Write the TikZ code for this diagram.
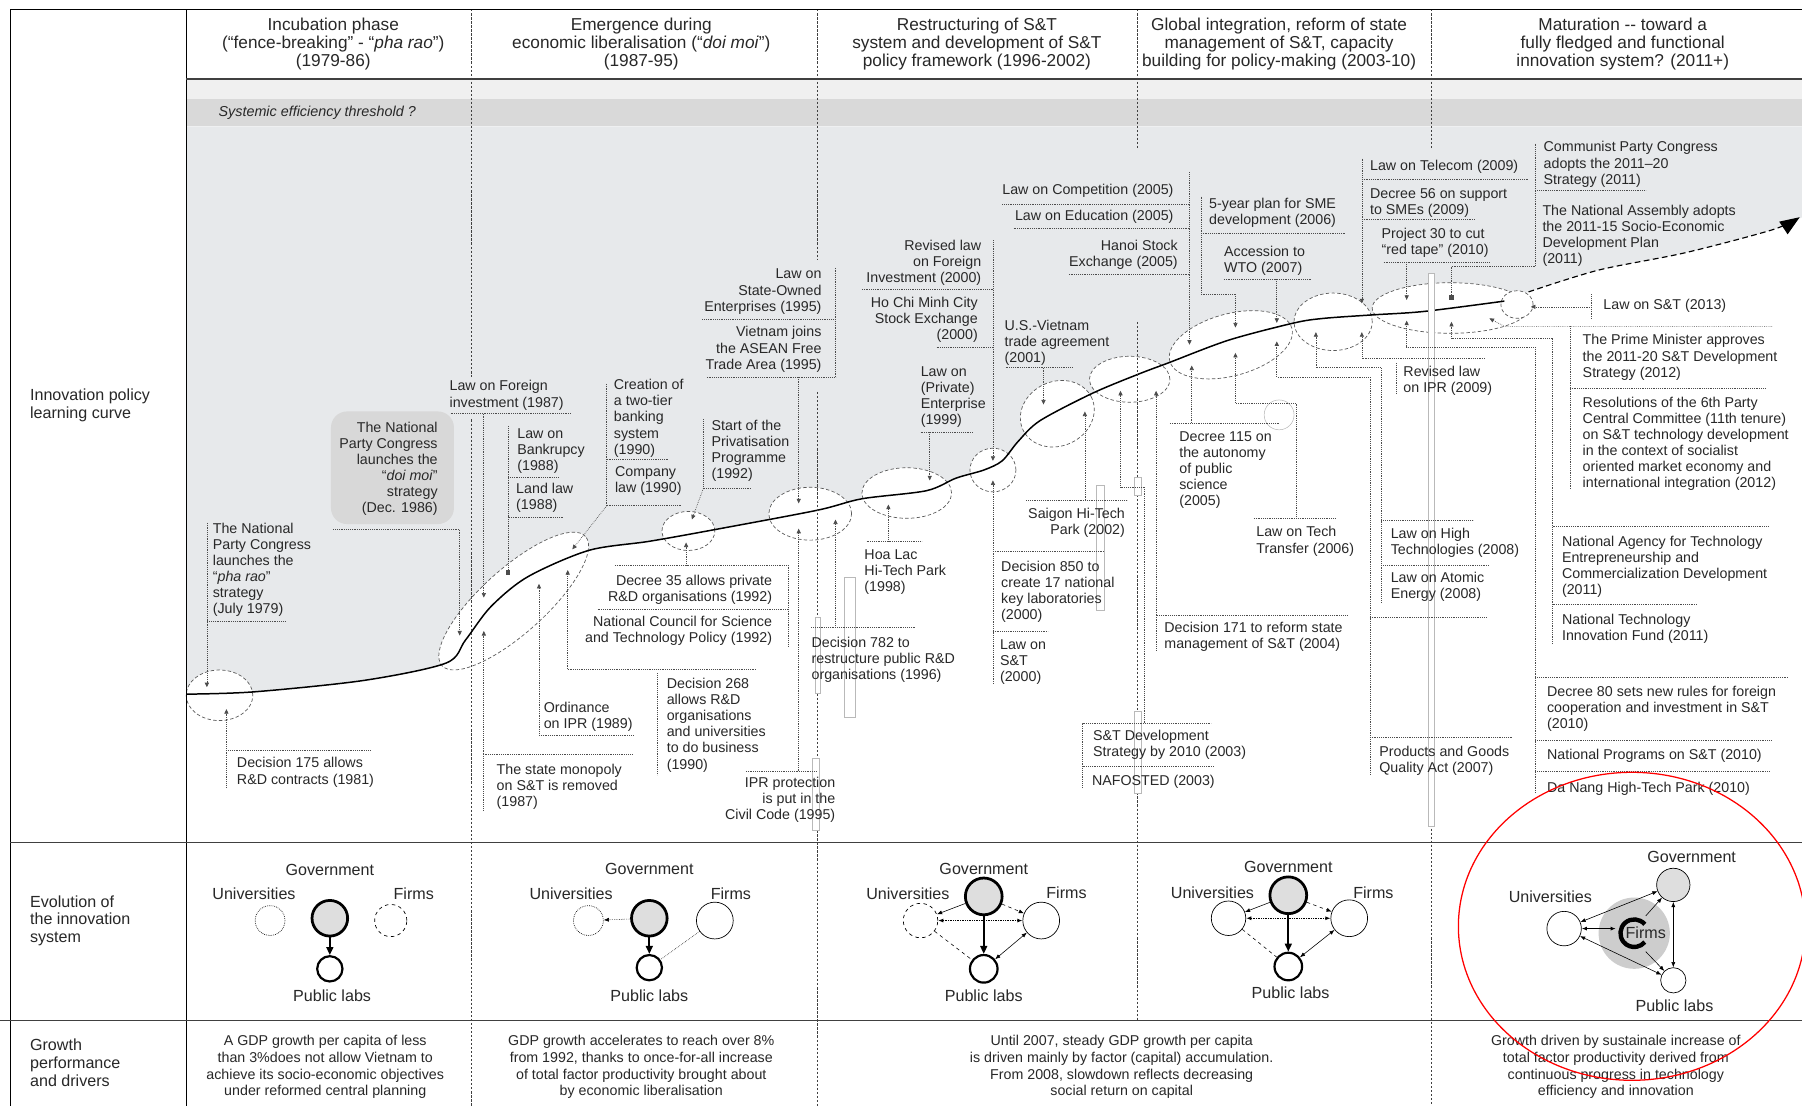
\documentclass[tikz,border=0pt]{standalone}
\usepackage{fontspec}
\setmainfont{Liberation Sans}
\usetikzlibrary{arrows.meta,calc}

\definecolor{bggray}{RGB}{231,233,235}
\definecolor{bandgray}{RGB}{217,217,217}
\definecolor{toplight}{RGB}{240,240,240}
\definecolor{boxgray}{RGB}{216,216,216}
\definecolor{govgray}{RGB}{222,222,222}
\definecolor{firmgray}{RGB}{205,205,205}
\definecolor{inkgray}{RGB}{40,40,40}
\lineskiplimit=-30pt

\newcommand\hdfont{\fontsize{15}{15.5}\selectfont}
\newcommand\lbfont{\fontsize{12.4}{14}\selectfont}
\newcommand\grfont{\fontsize{12.4}{14.4}\selectfont}
\newcommand\evfont{\fontsize{14}{16}\selectfont}
\newcommand\sdfont{\fontsize{14}{15.5}\selectfont}
\newcommand\thfont{\fontsize{12.5}{14}\selectfont\itshape}

\tikzset{
  headtxt/.style={font=\hdfont, align=center, inner sep=0pt, text=inkgray},
  sidetxt/.style={font=\sdfont, align=left, anchor=north west, inner sep=0pt, text=inkgray},
  lbl/.style={font=\lbfont, align=left, anchor=north west, inner sep=0pt, text=inkgray},
  lblr/.style={lbl, align=right, anchor=north east},
  growtxt/.style={font=\grfont, align=center, inner sep=0pt, text=inkgray},
  evo/.style={font=\evfont, inner sep=0pt, text=inkgray},
  leadln/.style={densely dotted, line width=0.6pt, black!70},
  leadtip/.style={-{Triangle[length=4pt,width=3.6pt]}},
  bubble/.style={draw=black!65, dash pattern=on 3pt off 2pt, line width=0.6pt, fill=white},
  coldiv/.style={dash pattern=on 2pt off 1.5pt, line width=0.5pt, black!75},
  rowline/.style={line width=1.4pt, black!75},
  frameline/.style={line width=0.8pt, black},
  glitch/.style={draw=gray!55, fill=white, line width=0.35pt},
  govc/.style={circle, draw, line width=2.4pt, fill=govgray, minimum size=31pt, inner sep=0pt},
  labc/.style={circle, draw, line width=1.9pt, fill=white, minimum size=22pt, inner sep=0pt},
  actc/.style={circle, draw, line width=0.6pt, fill=white, minimum size=32pt, inner sep=0pt},
  flowarr/.style={line width=1.6pt, -{Triangle[length=7pt,width=6pt]}},
  arr/.style={line width=0.5pt, -{Latex[length=4.5pt,width=3.5pt]}},
  dbl/.style={line width=0.5pt, {Latex[length=4.5pt,width=3.5pt]}-{Latex[length=4.5pt,width=3.5pt]}},
}

\begin{document}
\begin{tikzpicture}[x=1pt,y=-1pt]
	\useasboundingbox (0,0) rectangle (1568,962);
	\fill[white] (0,0) rectangle (1568,962);
	
	% bands under the header
	\fill[toplight] (162,69) rectangle (1568,86);
	\fill[bandgray] (162,86) rectangle (1568,110);
	\node[anchor=west, font=\thfont, text=inkgray, inner sep=0pt] (thr) at (190,98) {Systemic efficiency threshold ?};
	
	% area above the learning curve
	\fill[bggray] (162,110) -- (1568,110) -- (1568,189) -- plot[smooth, tension=0.5] coordinates {(1568,189) (1542,200) (1466,220) (1391,235) (1330,254) (1309,262) (1239,271) (1194,274) (1152,277) (1126,281) (1069,296) (1016,316) (992,325) (951,342) (905,366) (886,384) (872,401) (856,409) (832,416) (806,427) (750,434) (711,444) (621,461) (565,471) (512,479) (459,502) (427,528) (405,557) (388,577) (317,592) (221,602) (162,604)} -- cycle;
	
	% bubbles on the curve
	\draw[bubble] (191,605) ellipse [x radius=29pt, y radius=22pt];
	\draw[bubble, rotate around={42:(447,523)}] (447,523) ellipse [x radius=84pt, y radius=28pt];
	\draw[bubble] (599,462) ellipse [x radius=23pt, y radius=17pt];
	\draw[bubble] (705,447) ellipse [x radius=36pt, y radius=23pt];
	\draw[bubble] (789,429) ellipse [x radius=39pt, y radius=22pt];
	\draw[bubble] (864,409) ellipse [x radius=20pt, y radius=19pt];
	\draw[bubble, rotate around={25:(920,360)}] (920,360) ellipse [x radius=33pt, y radius=28pt];
	\draw[bubble] (983,330) ellipse [x radius=35pt, y radius=20pt];
	\draw[bubble, rotate around={15:(1071,300)}] (1071,300) ellipse [x radius=55pt, y radius=27pt];
	\draw[bubble] (1160,280) ellipse [x radius=34pt, y radius=25pt];
	\draw[bubble] (1262,268) ellipse [x radius=68pt, y radius=22pt];
	\draw[bubble] (1320,265) ellipse [x radius=14pt, y radius=12pt];
	
	% learning curve
	\draw[line width=1.3pt] plot[smooth, tension=0.5] coordinates {(162,604) (221,602) (317,592) (388,577) (405,557) (427,528) (459,502) (512,479) (565,471) (621,461) (711,444) (750,434) (806,427) (832,416) (856,409) (872,401) (886,384) (905,366) (951,342) (992,325) (1016,316) (1069,296) (1126,281) (1152,277) (1194,274) (1239,271) (1309,262)};
	\draw[line width=1pt, dash pattern=on 5pt off 3pt, -{Triangle[length=17pt,width=13pt]}] plot[smooth, tension=0.5] coordinates {(1330,254) (1391,235) (1466,220) (1542,200) (1566,189)};
	
	% column dividers
	\draw[coldiv] (410,8) -- (410,328) (410,365) -- (410,962);
	\draw[coldiv] (711,8) -- (711,226) (711,341) -- (711,962);
	\draw[coldiv] (990,8) -- (990,130) (990,280) -- (990,888);
	\draw[coldiv] (1245,8) -- (1245,130) (1245,238) -- (1245,962);
	
	% stray bars of the source drawing
	\draw[glitch] (709,537) rectangle (714,603);
	\draw[glitch] (707,660) rectangle (713,722);
	\draw[glitch] (735,502) rectangle (744,624);
	\draw[glitch] (954,422) rectangle (961,531);
	\draw[glitch] (987,415) rectangle (993,431);
	\draw[glitch] (987,619) rectangle (993,690);
	\draw[glitch] (1243,238) rectangle (1248,719);
	\draw[gray!60, line width=0.4pt] (1113,361) circle [radius=13pt];
	
	% leaders, 1979-86
	\draw[leadln] (180,455) -- (180,541) -- (249,541);
	\draw[leadln,leadtip] (180,541) -- (180,598);
	\draw[leadln] (197,685) -- (197,653) -- (322,653);
	\draw[leadln,leadtip] (197,653) -- (197,617);
	\draw[leadln] (290,461) -- (400,461);
	\draw[leadln,leadtip] (400,461) -- (400,553);
	\draw[leadln] (392,360) -- (497,360);
	\draw[leadln,leadtip] (421,360) -- (421,520);
	\draw[leadln] (486,415) -- (442,415) (442,371) -- (442,450) -- (490,450);
	\draw[leadln] (442,450) -- (442,496);
	\fill[black!70] (440,496) rectangle (444,500);
	
	% leaders, 1987-95
	\draw[leadln] (528,334) -- (528,440) (528,400) -- (582,400) (528,440) -- (593,440);
	\draw[leadln,leadtip] (528,440) -- (498,478);
	\draw[leadln] (612,365) -- (612,425) -- (654,425);
	\draw[leadln,leadtip] (612,425) -- (602,452);
	\draw[leadln] (535,492) -- (686,492) -- (686,563) (520,530) -- (686,530);
	\draw[leadln,leadtip] (597,492) -- (597,472);
	\draw[leadln] (494,582) -- (658,582);
	\draw[leadln,leadtip] (494,582) -- (494,496);
	\draw[leadln] (469,640) -- (551,640);
	\draw[leadln,leadtip] (469,640) -- (469,508);
	\draw[leadln] (421,705) -- (421,656) -- (551,656);
	\draw[leadln,leadtip] (421,656) -- (421,549);
	\draw[leadln] (572,586) -- (572,674);
	\draw[leadln] (649,671) -- (711,671);
	\draw[leadln,leadtip] (695,671) -- (695,460);
	\draw[leadln] (727,233) -- (727,328) (611,278) -- (727,278) (615,328) -- (727,328);
	\draw[leadln,leadtip] (695,328) -- (695,438);
	
	% leaders, 1996-2002
	\draw[leadln] (706,546) -- (796,546);
	\draw[leadln,leadtip] (727,546) -- (727,452);
	\draw[leadln] (754,471) -- (802,471);
	\draw[leadln,leadtip] (773,471) -- (773,439);
	\draw[leadln] (801,376) -- (847,376);
	\draw[leadln,leadtip] (809,376) -- (809,418);
	\draw[leadln] (750,252) -- (864,252) (815,302) -- (864,302);
	\draw[leadln,leadtip] (864,209) -- (864,401);
	\draw[leadln] (864,480) -- (961,480) (864,549) -- (912,549);
	\draw[leadln,leadtip] (864,595) -- (864,418);
	\draw[leadln] (875,320) -- (933,320);
	\draw[leadln,leadtip] (908,320) -- (908,352);
	\draw[leadln] (893,435) -- (981,435);
	\draw[leadln,leadtip] (944,435) -- (944,358);
	\draw[leadln] (872,178) -- (1035,178) (882,199) -- (1035,199) (930,239) -- (1035,239);
	\draw[leadln,leadtip] (1035,150) -- (1035,300);
	\draw[leadln] (975,424) -- (996,424) -- (996,629);
	\draw[leadln,leadtip] (975,424) -- (975,340);
	\draw[leadln] (942,685) -- (942,629) -- (1054,629) (942,667) -- (1057,667);
	\draw[leadln] (1006,566) -- (1006,535) -- (1172,535);
	\draw[leadln,leadtip] (1006,535) -- (1006,340);
	
	% leaders, 2003-10
	\draw[leadln] (1018,368) -- (1113,368);
	\draw[leadln,leadtip] (1037,368) -- (1037,318);
	\draw[leadln] (1045,171) -- (1045,256) -- (1075,256) (1045,203) -- (1170,203);
	\draw[leadln,leadtip] (1075,256) -- (1075,285);
	\draw[leadln] (1065,243) -- (1141,243);
	\draw[leadln,leadtip] (1111,243) -- (1111,281);
	\draw[leadln] (1091,451) -- (1162,451);
	\draw[leadln,leadtip] (1128,451) -- (1128,351) -- (1075,351) -- (1075,307);
	\draw[leadln,leadtip] (1192,674) -- (1192,328) -- (1111,328) -- (1111,297);
	\draw[leadln,leadtip] (1202,524) -- (1202,320) -- (1145,320) -- (1145,289);
	\draw[leadln] (1202,453) -- (1282,453) (1202,492) -- (1295,492) (1192,537) -- (1294,537) (1192,642) -- (1316,642);
	\draw[leadln,leadtip] (1292,312) -- (1185,312) -- (1185,289);
	\draw[leadln] (1215,316) -- (1215,342);
	\draw[leadln,leadtip] (1185,138) -- (1185,264);
	\draw[leadln] (1185,156) -- (1330,156) (1185,191) -- (1283,191) (1204,228) -- (1296,228);
	\draw[leadln,leadtip] (1224,228) -- (1224,261);
	\draw[leadln] (1263,232) -- (1263,257);
	\fill[black!70] (1261,257) rectangle (1265,261);
	
	% leaders, 2011+
	\draw[leadln] (1336,125) -- (1336,232) -- (1263,232) (1336,166) -- (1432,166);
	\draw[leadln,leadtip] (1336,302) -- (1224,302) -- (1224,279);
	\draw[leadln] (1336,302) -- (1336,690) (1336,589) -- (1556,589) (1336,644) -- (1542,644) (1336,671) -- (1540,671);
	\draw[leadln,leadtip] (1351,560) -- (1351,294) -- (1263,294) -- (1263,280);
	\draw[leadln] (1351,458) -- (1539,458) (1351,526) -- (1476,526);
	\draw[leadln,leadtip] (1542,284) -- (1309,284) -- (1296,277);
	\draw[leadln] (1366,284) -- (1366,426) (1366,338) -- (1537,338);
	\draw[leadln,leadtip] (1385,267) -- (1332,267);
	\draw[leadln] (1385,256) -- (1385,277);
	
	% events, 1979-86
	\fill[boxgray, rounded corners=14pt] (288,358) rectangle (395,456);
	\node[lbl] (pharao) at (185,455) {The National\\Party Congress\\launches the\\“\textit{pha rao}”\\strategy\\(July 1979)};
	\node[lbl] (dec175) at (206,659) {Decision 175 allows\\R\&D contracts (1981)};
	\node[lblr] (doimoi) at (381,367) {The National\\Party Congress\\launches the\\“\textit{doi moi}”\\strategy\\(Dec. 1986)};
	\node[lbl] (lawfi) at (391,331) {Law on Foreign\\investment (1987)};
	\node[lbl] (bankr) at (450,373) {Law on\\Bankrupcy\\(1988)};
	\node[lbl] (landlaw) at (449,420) {Land law\\(1988)};
	
	% events, 1987-95
	\node[lbl] (twotier) at (534,330) {Creation of\\a two-tier\\banking\\system\\(1990)};
	\node[lbl] (company) at (535,406) {Company\\law (1990)};
	\node[lbl] (privat) at (619,365) {Start of the\\Privatisation\\Programme\\(1992)};
	\node[lblr] (dec35) at (672,500) {Decree 35 allows private\\R\&D organisations (1992)};
	\node[lblr] (council) at (672,536) {National Council for Science\\and Technology Policy (1992)};
	\node[lbl] (ordin) at (473,611) {Ordinance\\on IPR (1989)};
	\node[lbl] (monopoly) at (432,665) {The state monopoly\\on S\&T is removed\\(1987)};
	\node[lbl] (dec268) at (580,590) {Decision 268\\allows R\&D\\organisations\\and universities\\to do business\\(1990)};
	\node[lblr] (iprcode) at (727,676) {IPR protection\\is put in the\\Civil Code (1995)};
	\node[lblr] (soe) at (715,234) {Law on\\State-Owned\\Enterprises (1995)};
	\node[lblr] (asean) at (715,284) {Vietnam joins\\the ASEAN Free\\Trade Area (1995)};
	
	% events, 1996-2002
	\node[lblr] (revfi) at (854,209) {Revised law\\on Foreign\\Investment (2000)};
	\node[lblr] (hcmc) at (851,258) {Ho Chi Minh City\\Stock Exchange\\(2000)};
	\node[lbl] (privent) at (801,319) {Law on\\(Private)\\Enterprise\\(1999)};
	\node[lbl] (usvn) at (874,278) {U.S.-Vietnam\\trade agreement\\(2001)};
	\node[lbl] (compet) at (872,160) {Law on Competition (2005)};
	\node[lbl] (educ) at (883,183) {Law on Education (2005)};
	\node[lblr] (hanoi) at (1025,209) {Hanoi Stock\\Exchange (2005)};
	\node[lbl] (hoalac) at (752,478) {Hoa Lac\\Hi-Tech Park\\(1998)};
	\node[lbl] (dec782) at (706,554) {Decision 782 to\\restructure public R\&D\\organisations (1996)};
	\node[lblr] (saigon) at (979,442) {Saigon Hi-Tech\\Park (2002)};
	\node[lbl] (dec850) at (871,488) {Decision 850 to\\create 17 national\\key laboratories\\(2000)};
	\node[lbl] (lawst) at (870,556) {Law on\\S\&T\\(2000)};
	\node[lbl] (ststrat) at (951,635) {S\&T Development\\Strategy by 2010 (2003)};
	\node[lbl] (nafosted) at (950,674) {NAFOSTED (2003)};
	
	% events, 2003-10
	\node[lbl] (sme) at (1052,172) {5-year plan for SME\\development (2006)};
	\node[lbl] (wto) at (1065,214) {Accession to\\WTO (2007)};
	\node[lbl] (dec115) at (1026,375) {Decree 115 on\\the autonomy\\of public\\science\\(2005)};
	\node[lbl] (techtr) at (1093,458) {Law on Tech\\Transfer (2006)};
	\node[lbl] (dec171) at (1013,541) {Decision 171 to reform state\\management of S\&T (2004)};
	\node[lbl] (telecom) at (1192,139) {Law on Telecom (2009)};
	\node[lbl] (dec56) at (1192,164) {Decree 56 on support\\to SMEs (2009)};
	\node[lbl] (proj30) at (1202,198) {Project 30 to cut\\“red tape” (2010)};
	\node[lbl] (revipr) at (1221,318) {Revised law\\on IPR (2009)};
	\node[lbl] (hightech) at (1210,459) {Law on High\\Technologies (2008)};
	\node[lbl] (atomic) at (1210,498) {Law on Atomic\\Energy (2008)};
	\node[lbl] (quality) at (1200,649) {Products and Goods\\Quality Act (2007)};
	
	% events, 2011+
	\node[lbl] (congress) at (1343,123) {Communist Party Congress\\adopts the 2011–20\\Strategy (2011)};
	\node[lbl] (assembly) at (1342,178) {The National Assembly adopts\\the 2011-15 Socio-Economic\\Development Plan\\(2011)};
	\node[lbl] (lawst13) at (1395,260) {Law on S\&T (2013)};
	\node[lbl] (primemin) at (1377,291) {The Prime Minister approves\\the 2011-20 S\&T Development\\Strategy (2012)};
	\node[lbl] (resol) at (1377,345) {Resolutions of the 6th Party\\Central Committee (11th tenure)\\on S\&T technology development\\in the context of socialist\\oriented market economy and\\international integration (2012)};
	\node[lbl] (agency) at (1359,466) {National Agency for Technology\\Entrepreneurship and\\Commercialization Development\\(2011)};
	\node[lbl] (fund) at (1359,534) {National Technology\\Innovation Fund (2011)};
	\node[lbl] (dec80) at (1346,597) {Decree 80 sets new rules for foreign\\cooperation and investment in S\&T\\(2010)};
	\node[lbl] (programs) at (1346,652) {National Programs on S\&T (2010)};
	\node[lbl] (danang) at (1346,680) {Da Nang High-Tech Park (2010)};
	
	% table frame
	\draw[frameline] (9,8) -- (1568,8);
	\draw[frameline] (9,8) -- (9,962);
	\draw[frameline] (162,8) -- (162,962);
	\draw[rowline] (162,69) -- (1568,69);
	\draw[rowline] (9,733) -- (1568,733);
	\draw[rowline] (0,888) -- (1568,888);
	
	% header
	\node[headtxt] (hd1) at (290,38.5) {Incubation phase\\(“fence-breaking” - “\textit{pha rao}”)\\(1979-86)};
	\node[headtxt] (hd2) at (558,38.5) {Emergence during\\economic liberalisation (“\textit{doi moi}”)\\(1987-95)};
	\node[headtxt] (hd3) at (850,38.5) {Restructuring of S\&T\\system and development of S\&T\\policy framework (1996-2002)};
	\node[headtxt] (hd4) at (1113,38.5) {Global integration, reform of state\\management of S\&T, capacity\\building for policy-making (2003-10)};
	\node[headtxt] (hd5) at (1412,38.5) {Maturation {-}{-} toward a\\fully fledged and functional\\innovation system? (2011+)};
	
	% row titles
	\node[sidetxt] (rowcurve) at (26,338) {Innovation policy\\learning curve};
	\node[sidetxt] (rowsys) at (26,779) {Evolution of\\the innovation\\system};
	\node[sidetxt] (rowgrowth) at (26,904) {Growth\\performance\\and drivers};
	
	% innovation system, 1979-86
	\node[govc] (gov1) at (287,799) {};
	\node[actc, densely dotted, minimum size=26pt] (uni1) at (235,801) {};
	\node[actc, dashed, minimum size=28pt] (firm1) at (340,801) {};
	\node[labc] (lab1) at (287,843) {};
	\node[evo] (gov1t) at (287,757) {Government};
	\node[evo] (uni1t) at (221,778) {Universities};
	\node[evo] (firm1t) at (360,778) {Firms};
	\node[evo] (lab1t) at (289,866) {Public labs};
	\draw[flowarr] (gov1) -- (lab1);
	
	% innovation system, 1987-95
	\node[govc] (gov2) at (565,799) {};
	\node[actc, densely dotted, minimum size=26pt] (uni2) at (512,801) {};
	\node[actc] (firm2) at (622,801) {};
	\node[labc] (lab2) at (565,842) {};
	\node[evo] (gov2t) at (565,756) {Government};
	\node[evo] (uni2t) at (497,778) {Universities};
	\node[evo] (firm2t) at (636,778) {Firms};
	\node[evo] (lab2t) at (565,866) {Public labs};
	\draw[flowarr] (gov2) -- (lab2);
	\draw[arr, densely dotted] (gov2) -- (uni2);
	\draw[densely dotted, line width=0.5pt] (firm2) -- (lab2);
	
	% innovation system, 1996-2002
	\node[govc, minimum size=32pt] (gov3) at (856,780) {};
	\node[actc, dashed, minimum size=30pt] (uni3) at (801,801) {};
	\node[actc] (firm3) at (906,801) {};
	\node[labc, minimum size=24pt] (lab3) at (856,843) {};
	\node[evo] (gov3t) at (856,756) {Government};
	\node[evo] (uni3t) at (790,778) {Universities};
	\node[evo] (firm3t) at (928,777) {Firms};
	\node[evo] (lab3t) at (856,866) {Public labs};
	\draw[arr] (gov3) -- (uni3);
	\draw[arr, dashed] (gov3) -- (firm3);
	\draw[dbl, densely dotted, line width=1pt] (uni3) -- (firm3);
	\draw[flowarr] (gov3) -- (lab3);
	\draw[dashed, line width=0.5pt] (uni3) -- (lab3);
	\draw[dbl] (firm3) -- (lab3);
	
	% innovation system, 2003-10
	\node[govc, minimum size=32pt] (gov4) at (1121,779) {};
	\node[actc, minimum size=30pt] (uni4) at (1069,799) {};
	\node[actc] (firm4) at (1174,799) {};
	\node[labc, minimum size=24pt] (lab4) at (1121,841) {};
	\node[evo] (gov4t) at (1121,754) {Government};
	\node[evo] (uni4t) at (1055,777) {Universities};
	\node[evo] (firm4t) at (1195,777) {Firms};
	\node[evo] (lab4t) at (1123,864) {Public labs};
	\draw[arr] (gov4) -- (uni4);
	\draw[arr, dashed] (gov4) -- (firm4);
	\draw[dbl, densely dotted, line width=1pt] (uni4) -- (firm4);
	\draw[flowarr] (gov4) -- (lab4);
	\draw[dashed, line width=0.5pt] (uni4) -- (lab4);
	\draw[dbl] (firm4) -- (lab4);
	
	% innovation system, 2011+
	\node[circle, fill=firmgray, minimum size=62pt, inner sep=0pt] (firm5) at (1422,812) {};
	\node[circle, draw, line width=0.6pt, fill=govgray, minimum size=29pt, inner sep=0pt] (gov5) at (1456,770) {};
	\node[actc, minimum size=30pt] (uni5) at (1361,808) {};
	\node[actc, minimum size=22pt] (lab5) at (1456,853) {};
	\draw[line width=3.8pt] ($(firm5.center)+(40:12pt)$) arc [start angle=40, end angle=320, radius=12pt];
	\node[evo] (firm5t) at (1432,812) {Firms};
	\node[evo] (gov5t) at (1472,746) {Government};
	\node[evo] (uni5t) at (1349,780) {Universities};
	\node[evo] (lab5t) at (1457,875) {Public labs};
	\coordinate (cne) at (1432,797);
	\coordinate (cse) at (1432,828);
	\coordinate (cwe) at (1406,808);
	\draw[dbl] (uni5) -- (gov5);
	\draw[dbl] (uni5) -- (lab5);
	\draw[dbl] (gov5) -- (lab5);
	\draw[dbl, line width=1.2pt] (uni5) -- (cwe);
	\draw[arr] (cne) -- (gov5);
	\draw[arr] (cse) -- (lab5);
	
	% growth row
	\node[growtxt] (gr1) at (283,928.5) {A GDP growth per capita of less\\than 3\%does not allow Vietnam to\\achieve its socio-economic objectives\\under reformed central planning};
	\node[growtxt] (gr2) at (558,928.5) {GDP growth accelerates to reach over 8\%\\from 1992, thanks to once-for-all increase\\of total factor productivity brought about\\by economic liberalisation};
	\node[growtxt] (gr3) at (976,928.5) {Until 2007, steady GDP growth per capita\\is driven mainly by factor (capital) accumulation.\\From 2008, slowdown reflects decreasing\\social return on capital};
	\node[growtxt] (gr5) at (1406,928.5) {Growth driven by sustainale increase of\\total factor productivity derived from\\continuous progress in technology\\efficiency and innovation};
	
	% highlight
	\draw[red, line width=1.1pt] (1420,806) ellipse [x radius=151pt, y radius=134pt];
\end{tikzpicture}
\end{document}
